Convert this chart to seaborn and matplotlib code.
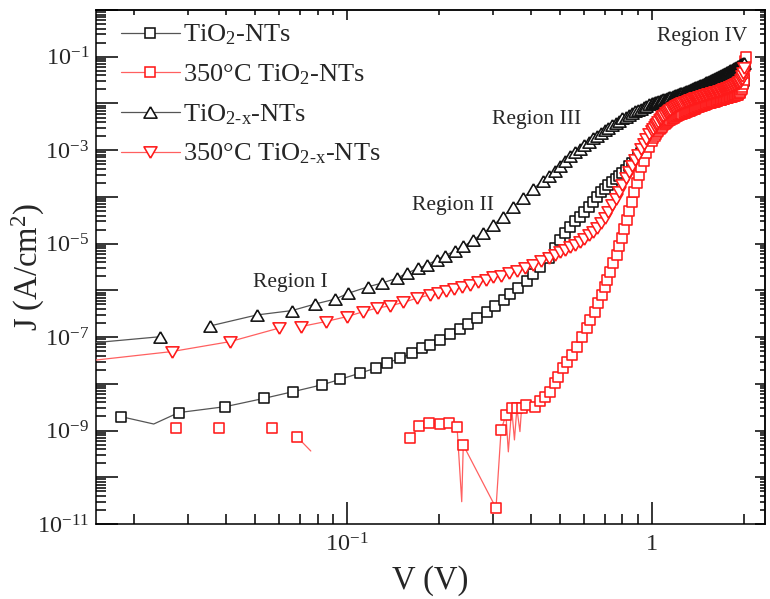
import numpy as np
import pandas as pd
import matplotlib
matplotlib.use("Agg")
import matplotlib.pyplot as plt
import seaborn as sns
from matplotlib.lines import Line2D
from matplotlib.ticker import LogLocator, FuncFormatter, NullFormatter

nan = np.nan

# ---------------------------------------------------------------------------
# J-V data (V in volts, J in A/cm^2).  nan = no valid reading (line break).
# ---------------------------------------------------------------------------
# common high-bias part of the sweep: 20 mV steps up to 0.98 V, 10 mV above
v_sweep = [
    0.46, 0.48, 0.50, 0.52, 0.54, 0.56, 0.58, 0.60, 0.62, 0.64,
    0.66, 0.68, 0.70, 0.72, 0.74, 0.76, 0.78, 0.80, 0.82, 0.84,
    0.86, 0.88, 0.90, 0.92, 0.94, 0.96, 0.98,
    1.00, 1.01, 1.02, 1.03, 1.04, 1.05, 1.06, 1.07, 1.08, 1.09,
    1.10, 1.11, 1.12, 1.13, 1.14, 1.15, 1.16, 1.17, 1.18, 1.19,
    1.20, 1.21, 1.22, 1.23, 1.24, 1.25, 1.26, 1.27, 1.28, 1.29,
    1.30, 1.31, 1.32, 1.33, 1.34, 1.35, 1.36, 1.37, 1.38, 1.39,
    1.40, 1.41, 1.42, 1.43, 1.44, 1.45, 1.46, 1.47, 1.48, 1.49,
    1.50, 1.51, 1.52, 1.53, 1.54, 1.55, 1.56, 1.57, 1.58, 1.59,
    1.60, 1.61, 1.62, 1.63, 1.64, 1.65, 1.66, 1.67, 1.68, 1.69,
    1.70, 1.71, 1.72, 1.73, 1.74, 1.75, 1.76, 1.77, 1.78, 1.79,
    1.80, 1.81, 1.82, 1.83, 1.84, 1.85, 1.86, 1.87, 1.88, 1.89,
    1.90, 1.91, 1.92, 1.93, 1.94, 1.95, 1.96, 1.97, 1.98, 1.99,
    2.00,
]

# --- TiO2-NTs --------------------------------------------------------------
v_tio2_low = [0.0181, 0.0280, 0.0399, 0.0535, 0.0665, 0.0826, 0.0950, 0.110,
              0.124, 0.135, 0.149, 0.163, 0.176, 0.187, 0.202, 0.218, 0.235,
              0.250, 0.266, 0.287, 0.306, 0.326, 0.342, 0.365, 0.388, 0.408,
              0.430]
j_tio2_low = [1.99e-9, 2.42e-9, 3.25e-9, 4.9e-9, 6.8e-9, 9.5e-9, 1.25e-8, 1.69e-8,
              2.16e-8, 2.8e-8, 3.5e-8, 4.5e-8, 5.8e-8, 6.8e-8, 8.7e-8, 1.15e-7, 1.5e-7,
              1.95e-7, 2.5e-7, 3.4e-7, 4.6e-7, 6.3e-7, 8.3e-7, 1.15e-6, 1.6e-6, 2.2e-6,
              3.1e-6]
j_tio2_high = [
    5.0e-6, 7.9e-6, 1.2e-5, 1.7e-5, 2.3e-5, 3.0e-5, 3.8e-5, 4.8e-5, 6.0e-5, 7.8e-5,
    1.0e-4, 1.25e-4, 1.5e-4, 1.8e-4, 2.1e-4, 2.4e-4, 2.8e-4, 3.3e-4, 3.8e-4, 4.5e-4,
    5.3e-4, 6.3e-4, 7.4e-4, 8.7e-4, 1.05e-3, 1.26e-3, 1.5e-3,
    1.90e-3, 2.12e-3, 2.34e-3, 2.56e-3, 2.78e-3, 3.00e-3, 3.22e-3, 3.44e-3, 3.66e-3, 3.88e-3,
    4.10e-3, 4.31e-3, 4.52e-3, 4.73e-3, 4.94e-3, 5.15e-3, 5.36e-3, 5.57e-3, 5.78e-3, 5.99e-3,
    6.20e-3, 6.37e-3, 6.54e-3, 6.71e-3, 6.88e-3, 7.05e-3, 7.22e-3, 7.39e-3, 7.56e-3, 7.73e-3,
    7.90e-3, 8.06e-3, 8.22e-3, 8.38e-3, 8.54e-3, 8.70e-3, 8.86e-3, 9.02e-3, 9.18e-3, 9.34e-3,
    9.50e-3, 9.65e-3, 9.80e-3, 9.95e-3, 1.01e-2, 1.03e-2, 1.04e-2, 1.06e-2, 1.07e-2, 1.09e-2,
    1.10e-2, 1.12e-2, 1.13e-2, 1.15e-2, 1.16e-2, 1.18e-2, 1.19e-2, 1.21e-2, 1.22e-2, 1.24e-2,
    1.25e-2, 1.27e-2, 1.29e-2, 1.30e-2, 1.32e-2, 1.34e-2, 1.35e-2, 1.37e-2, 1.39e-2, 1.40e-2,
    1.42e-2, 1.44e-2, 1.46e-2, 1.48e-2, 1.50e-2, 1.52e-2, 1.54e-2, 1.56e-2, 1.58e-2, 1.60e-2,
    1.62e-2, 1.65e-2, 1.68e-2, 1.70e-2, 1.73e-2, 1.76e-2, 1.79e-2, 1.82e-2, 1.84e-2, 1.87e-2,
    1.90e-2, 1.96e-2, 2.02e-2, 2.08e-2, 2.14e-2, 2.20e-2, 2.34e-2, 2.48e-2, 2.64e-2, 2.80e-2,
    3.00e-2,
]
# readings drawn in the trace only (no symbol)
v_tio2_dip = [0.0232]
j_tio2_dip = [1.38e-9]

# --- 350 °C TiO2-NTs -------------------------------------------------------
v_350_tio2_low = [0.0275, 0.033, 0.038, 0.047, 0.0566, 0.062, 0.0684, 0.100,
                  0.161, 0.1726, 0.186, 0.202, 0.2157, 0.2295, 0.2405, 0.308,
                  0.320, 0.332, 0.3467, 0.3605, 0.3737, 0.3877, 0.414, 0.430,
                  0.446, 0.4628, 0.480, 0.493, 0.512, 0.525, 0.545, 0.567,
                  0.588, 0.611, 0.626, 0.650, 0.667, 0.684, 0.701, 0.710,
                  0.728, 0.747, 0.766, 0.780, 0.796, 0.812, 0.828, 0.844,
                  0.860, 0.876, 0.892, 0.908, 0.924, 0.940]
j_350_tio2_low = [1.15e-9, nan, 1.12e-9, nan, 1.12e-9, nan, 7.4e-10, nan,
                  6.8e-10, 1.25e-9, 1.43e-9, 1.36e-9, 1.48e-9, 1.17e-9, 4.9e-10, 2.2e-11,
                  1.03e-9, 2.16e-9, 3.0e-9, 3.0e-9, 3.1e-9, 3.5e-9, 3.2e-9, 4.2e-9,
                  5.3e-9, 6.8e-9, 1.03e-8, 1.43e-8, 2.16e-8, 3.0e-8, 4.16e-8, 6.2e-8,
                  1.0e-7, 1.55e-7, 2.33e-7, 3.5e-7, 5.3e-7, 8.0e-7, 1.2e-6, 1.7e-6,
                  2.5e-6, 3.8e-6, 5.8e-6, 8.8e-6, 1.35e-5, 2.1e-5, 3.2e-5, 5.0e-5,
                  7.8e-5, 1.3e-4, 2.0e-4, 3.0e-4, 4.4e-4, 6.0e-4]
j_350_tio2_high = [  # from 0.96 V
    8.7e-4, 1.15e-3,
    1.60e-3, 1.80e-3, 2.00e-3, 2.20e-3, 2.40e-3, 2.60e-3, 2.80e-3, 3.00e-3, 3.20e-3, 3.40e-3,
    3.60e-3, 3.78e-3, 3.96e-3, 4.14e-3, 4.32e-3, 4.50e-3, 4.66e-3, 4.82e-3, 4.98e-3, 5.14e-3,
    5.30e-3, 5.43e-3, 5.56e-3, 5.69e-3, 5.82e-3, 5.95e-3, 6.08e-3, 6.21e-3, 6.34e-3, 6.47e-3,
    6.60e-3, 6.74e-3, 6.88e-3, 7.02e-3, 7.16e-3, 7.30e-3, 7.45e-3, 7.60e-3, 7.75e-3, 7.90e-3,
    8.05e-3, 8.20e-3, 8.35e-3, 8.50e-3, 8.65e-3, 8.80e-3, 8.95e-3, 9.10e-3, 9.25e-3, 9.40e-3,
    9.55e-3, 9.70e-3, 9.85e-3, 1.00e-2, 1.01e-2, 1.03e-2, 1.04e-2, 1.05e-2, 1.07e-2, 1.08e-2,
    1.09e-2, 1.10e-2, 1.12e-2, 1.13e-2, 1.14e-2, 1.16e-2, 1.17e-2, 1.18e-2, 1.20e-2, 1.21e-2,
    1.22e-2, 1.24e-2, 1.25e-2, 1.26e-2, 1.28e-2, 1.29e-2, 1.30e-2, 1.32e-2, 1.33e-2, 1.35e-2,
    1.36e-2, 1.37e-2, 1.39e-2, 1.40e-2, 1.42e-2, 1.43e-2, 1.45e-2, 1.46e-2, 1.48e-2, 1.50e-2,
    1.52e-2, 1.55e-2, 1.59e-2, 1.64e-2, 1.70e-2, 1.78e-2, 1.90e-2, 2.06e-2, 2.30e-2, 2.65e-2,
    3.20e-2,
]
# final readings while the bias settles at the end of the sweep
v_350_tio2_end = [2.01, 2.02, 2.025, 2.03]
j_350_tio2_end = [4.5e-2, 6.2e-2, 8.0e-2, 1.0e-1]
v_350_tio2_dip = [0.076, 0.2377, 0.338, 0.354, 0.369]
j_350_tio2_dip = [3.65e-10, 3.0e-11, 3.5e-10, 6.3e-10, 9.5e-10]

# --- TiO2-x-NTs ------------------------------------------------------------
v_tio2x_low = [0.010, 0.0244, 0.030, 0.0356, 0.0506, 0.0659, 0.0785, 0.0914,
               0.101, 0.1175, 0.130, 0.1456, 0.157, 0.1714, 0.1825, 0.197,
               0.2096, 0.226, 0.2406, 0.2594, 0.280, 0.302, 0.3255, 0.351,
               0.378, 0.408, 0.440]
j_tio2x_low = [6.0e-8, 1.02e-7, nan, 1.74e-7, 2.98e-7, 3.69e-7, 5.1e-7, 6.5e-7,
               8.7e-7, 1.2e-6, 1.43e-6, 1.82e-6, 2.33e-6, 2.99e-6, 3.5e-6, 4.5e-6,
               5.5e-6, 7.1e-6, 8.7e-6, 1.2e-5, 1.68e-5, 2.5e-5, 3.8e-5, 6.2e-5,
               9.4e-5, 1.5e-4, 2.2e-4]
j_tio2x_high = [
    2.8e-4, 3.5e-4, 4.6e-4, 6.0e-4, 7.6e-4, 9.1e-4, 1.07e-3, 1.29e-3, 1.51e-3, 1.78e-3,
    2.04e-3, 2.34e-3, 2.69e-3, 3.02e-3, 3.39e-3, 3.80e-3, 4.27e-3, 4.79e-3, 5.25e-3, 5.75e-3,
    6.31e-3, 6.76e-3, 7.24e-3, 7.76e-3, 8.32e-3, 8.91e-3, 9.55e-3,
    1.02e-2, 1.04e-2, 1.06e-2, 1.08e-2, 1.10e-2, 1.13e-2, 1.15e-2, 1.17e-2, 1.20e-2, 1.22e-2,
    1.24e-2, 1.27e-2, 1.29e-2, 1.32e-2, 1.35e-2, 1.37e-2, 1.40e-2, 1.43e-2, 1.46e-2, 1.49e-2,
    1.52e-2, 1.55e-2, 1.58e-2, 1.61e-2, 1.64e-2, 1.68e-2, 1.71e-2, 1.74e-2, 1.78e-2, 1.81e-2,
    1.85e-2, 1.89e-2, 1.93e-2, 1.96e-2, 2.00e-2, 2.04e-2, 2.09e-2, 2.13e-2, 2.17e-2, 2.21e-2,
    2.26e-2, 2.30e-2, 2.35e-2, 2.40e-2, 2.45e-2, 2.49e-2, 2.54e-2, 2.60e-2, 2.65e-2, 2.70e-2,
    2.76e-2, 2.81e-2, 2.87e-2, 2.92e-2, 2.98e-2, 3.04e-2, 3.10e-2, 3.17e-2, 3.23e-2, 3.29e-2,
    3.36e-2, 3.43e-2, 3.50e-2, 3.57e-2, 3.64e-2, 3.71e-2, 3.79e-2, 3.86e-2, 3.94e-2, 4.02e-2,
    4.10e-2, 4.18e-2, 4.27e-2, 4.35e-2, 4.44e-2, 4.53e-2, 4.62e-2, 4.71e-2, 4.81e-2, 4.90e-2,
    5.00e-2, 5.10e-2, 5.20e-2, 5.31e-2, 5.41e-2, 5.52e-2, 5.63e-2, 5.75e-2, 5.86e-2, 5.98e-2,
    6.10e-2, 6.22e-2, 6.35e-2, 6.47e-2, 6.60e-2, 6.74e-2, 6.87e-2, 7.01e-2, 7.15e-2, 7.29e-2,
    7.44e-2,
]

# --- 350 °C TiO2-x-NTs -----------------------------------------------------
v_350_tio2x_low = [0.010, 0.0266, 0.0413, 0.0596, 0.065, 0.0706, 0.0851, 0.100,
                   0.113, 0.125, 0.138, 0.153, 0.169, 0.187, 0.199, 0.211,
                   0.224, 0.238, 0.253, 0.268, 0.285, 0.302, 0.321, 0.341,
                   0.362, 0.384, 0.408, 0.433]
j_350_tio2x_low = [2.4e-8, 4.9e-8, 8.0e-8, 1.55e-7, nan, 1.68e-7, 2.15e-7, 2.75e-7,
                   3.5e-7, 4.16e-7, 4.66e-7, 5.5e-7, 6.8e-7, 8.0e-7, 8.8e-7, 9.6e-7,
                   1.07e-6, 1.18e-6, 1.31e-6, 1.48e-6, 1.70e-6, 1.90e-6, 2.08e-6, 2.32e-6,
                   2.65e-6, 3.05e-6, 3.55e-6, 4.2e-6]
j_350_tio2x_high = [
    5.0e-6, 5.7e-6, 6.5e-6, 7.3e-6, 8.3e-6, 9.5e-6, 1.1e-5, 1.28e-5, 1.5e-5, 1.8e-5,
    2.2e-5, 2.8e-5, 3.6e-5, 4.8e-5, 6.6e-5, 9.2e-5, 1.3e-4, 1.8e-4, 2.5e-4, 3.4e-4,
    4.6e-4, 6.1e-4, 8.0e-4, 1.05e-3, 1.35e-3, 1.75e-3, 2.2e-3,
    2.60e-3, 2.85e-3, 3.10e-3, 3.40e-3, 3.70e-3, 4.00e-3, 4.35e-3, 4.70e-3, 5.05e-3, 5.40e-3,
    5.75e-3, 6.10e-3, 6.40e-3, 6.70e-3, 7.00e-3, 7.30e-3, 7.60e-3, 7.90e-3, 8.15e-3, 8.40e-3,
    8.65e-3, 8.90e-3, 9.15e-3, 9.40e-3, 9.65e-3, 9.90e-3, 1.01e-2, 1.03e-2, 1.06e-2, 1.08e-2,
    1.10e-2, 1.12e-2, 1.14e-2, 1.16e-2, 1.18e-2, 1.20e-2, 1.22e-2, 1.24e-2, 1.26e-2, 1.28e-2,
    1.30e-2, 1.32e-2, 1.34e-2, 1.36e-2, 1.38e-2, 1.40e-2, 1.42e-2, 1.44e-2, 1.46e-2, 1.48e-2,
    1.50e-2, 1.52e-2, 1.54e-2, 1.56e-2, 1.58e-2, 1.60e-2, 1.62e-2, 1.64e-2, 1.66e-2, 1.68e-2,
    1.70e-2, 1.72e-2, 1.74e-2, 1.76e-2, 1.78e-2, 1.80e-2, 1.82e-2, 1.84e-2, 1.86e-2, 1.88e-2,
    1.90e-2, 1.93e-2, 1.96e-2, 1.99e-2, 2.02e-2, 2.05e-2, 2.08e-2, 2.11e-2, 2.14e-2, 2.17e-2,
    2.20e-2, 2.24e-2, 2.28e-2, 2.32e-2, 2.36e-2, 2.40e-2, 2.44e-2, 2.48e-2, 2.52e-2, 2.56e-2,
    2.60e-2, 2.67e-2, 2.74e-2, 2.81e-2, 2.88e-2, 2.95e-2, 3.15e-2, 3.40e-2, 3.80e-2, 4.50e-2,
    5.80e-2,
]

labels = ["TiO$_2$-NTs", "350°C TiO$_2$-NTs",
          r"TiO$_{\mathrm{2}\text{-}\mathrm{x}}$-NTs",
          r"350°C TiO$_{\mathrm{2}\text{-}\mathrm{x}}$-NTs"]
region_text = ["Region I", "Region II", "Region III", "Region IV"]
region_v = [0.065, 0.223, 0.42, 1.46]
region_j = [1.44e-6, 6.4e-5, 4.5e-3, 2.7e-1]

# ---------------------------------------------------------------------------
sns.set_style("ticks")
plt.rcParams["font.family"] = ["Liberation Serif", "DejaVu Serif"]
plt.rcParams["mathtext.fontset"] = "custom"
plt.rcParams["mathtext.rm"] = "Liberation Serif"
plt.rcParams["mathtext.it"] = "Liberation Serif:italic"
plt.rcParams["mathtext.bf"] = "Liberation Serif:bold"

fig = plt.figure(figsize=(7.7, 5.99), dpi=100)
ax = fig.add_axes([96 / 770, 75 / 599, 669 / 770, 514 / 599])
ax.set_xscale("log")
ax.set_yscale("log")

# symbol shapes: open square, equilateral up / down triangles
tri_up = [(0, 0.866), (-1, -0.866), (1, -0.866), (0, 0.866)]
tri_dn = [(0, -0.866), (-1, 0.866), (1, 0.866), (0, -0.866)]

BLACK, RED = "#111111", "#ff1a1a"
LINE_BLACK, LINE_RED = "#555555", "#ff6060"


def draw_series(v, j, v_dip, j_dip, marker, size, color, line_color, z):
    v = np.asarray(v, float)
    j = np.asarray(j, float)
    v_all = np.concatenate([v, np.asarray(v_dip, float)])
    j_all = np.concatenate([j, np.asarray(j_dip, float)])
    order = np.argsort(v_all, kind="stable")
    v_all, j_all = v_all[order], j_all[order]
    trace = pd.DataFrame({"V": v_all, "J": j_all,
                          "seg": np.cumsum(np.isnan(j_all))}).dropna()
    sns.lineplot(data=trace, x="V", y="J", units="seg", estimator=None,
                 sort=False, color=line_color, lw=0.9, ax=ax, legend=False,
                 zorder=z)
    pts = pd.DataFrame({"V": v, "J": j}).dropna()
    sns.scatterplot(data=pts, x="V", y="J", marker=marker, s=size ** 2,
                    facecolor="white", edgecolor=color, linewidth=1.15,
                    ax=ax, legend=False, zorder=z + 0.5)


draw_series(v_tio2_low + v_sweep, j_tio2_low + j_tio2_high,
            v_tio2_dip, j_tio2_dip, "s", 7.3, BLACK, LINE_BLACK, 3)
draw_series(v_350_tio2_low + v_sweep[25:] + v_350_tio2_end,
            j_350_tio2_low + j_350_tio2_high + j_350_tio2_end,
            v_350_tio2_dip, j_350_tio2_dip, "s", 7.3, RED, LINE_RED, 5)
draw_series(v_tio2x_low + v_sweep, j_tio2x_low + j_tio2x_high,
            [], [], tri_up, 9.4, BLACK, LINE_BLACK, 7)
draw_series(v_350_tio2x_low + v_sweep, j_350_tio2x_low + j_350_tio2x_high,
            [], [], tri_dn, 9.4, RED, LINE_RED, 9)

ax.set_xlim(0.015, 2.35)
ax.set_ylim(1e-11, 1)

# ticks: long inward ticks on bottom/left, short ones on top/right
tick_font = 17.5
ax.xaxis.set_major_locator(LogLocator(base=10, numticks=20))
ax.xaxis.set_minor_locator(LogLocator(base=10, subs=np.arange(2, 10), numticks=20))
ax.yaxis.set_major_locator(LogLocator(base=10, numticks=20))
ax.yaxis.set_minor_locator(LogLocator(base=10, subs=np.arange(2, 10), numticks=20))


def x_fmt(val, pos):
    e = int(round(np.log10(val)))
    return "1" if e == 0 else f"$10^{{{e}}}$"


def y_fmt(val, pos):
    e = int(round(np.log10(val)))
    return f"$10^{{{e}}}$" if e % 2 else ""


ax.xaxis.set_major_formatter(FuncFormatter(x_fmt))
ax.yaxis.set_major_formatter(FuncFormatter(y_fmt))
ax.xaxis.set_minor_formatter(NullFormatter())
ax.yaxis.set_minor_formatter(NullFormatter())
ax.tick_params(which="both", direction="in", top=False, right=False,
               width=1.1, color="black", labelsize=tick_font)
ax.tick_params(which="major", length=15.5)
ax.tick_params(which="minor", length=7.5)
ax.tick_params(axis="x", which="major", pad=7)
ax.tick_params(axis="y", which="major", pad=5)
for sp in ax.spines.values():
    sp.set_visible(True)
    sp.set_linewidth(1.1)
    sp.set_color("black")

top = ax.secondary_xaxis("top")
right = ax.secondary_yaxis("right")
for sec, axis in ((top, top.xaxis), (right, right.yaxis)):
    axis.set_major_locator(LogLocator(base=10, numticks=20))
    axis.set_minor_locator(LogLocator(base=10, subs=np.arange(2, 10), numticks=20))
    axis.set_major_formatter(NullFormatter())
    axis.set_minor_formatter(NullFormatter())
    sec.tick_params(which="both", direction="in", width=1.1, color="black")
    sec.tick_params(which="major", length=7.5)
    sec.tick_params(which="minor", length=3.8)
    for sp in sec.spines.values():
        sp.set_linewidth(1.1)

ax.set_xlabel("V (V)", fontsize=23.5)
ax.set_ylabel("J (A/cm$^2$)", fontsize=23.5)
ax.xaxis.set_label_coords(0.5, -0.08)
ax.yaxis.set_label_coords(-0.073, 0.5)

for t, v, j in zip(region_text, region_v, region_j):
    ax.text(v, j, t, fontsize=15.5, ha="center", va="center", zorder=20)

handles = [
    Line2D([], [], color=LINE_BLACK, lw=0.9, marker="s", ms=7.3, mfc="white", mec=BLACK, mew=1.15),
    Line2D([], [], color=LINE_RED, lw=0.9, marker="s", ms=7.3, mfc="white", mec=RED, mew=1.15),
    Line2D([], [], color=LINE_BLACK, lw=0.9, marker=tri_up, ms=9.4, mfc="white", mec=BLACK, mew=1.15),
    Line2D([], [], color=LINE_RED, lw=0.9, marker=tri_dn, ms=9.4, mfc="white", mec=RED, mew=1.15),
]
leg = ax.legend(handles, labels, loc="upper left", bbox_to_anchor=(0.037, 0.975),
                frameon=False, fontsize=19, handlelength=2.25, handletextpad=0.12,
                labelspacing=0.57, borderpad=0, borderaxespad=0, numpoints=1)
leg.set_zorder(30)

fig.savefig("out.png", dpi=100)
